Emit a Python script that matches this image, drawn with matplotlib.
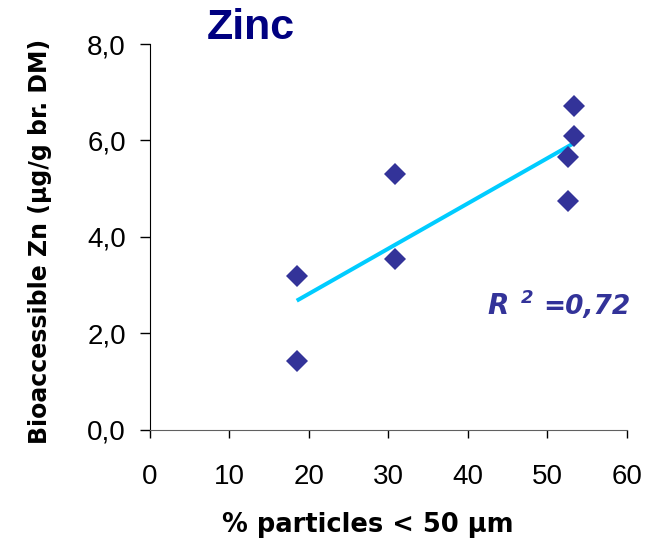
import numpy as np
import matplotlib
matplotlib.use("Agg")
import matplotlib.pyplot as plt
from matplotlib.ticker import FuncFormatter

# % of soil particles < 50 µm and bioaccessible zinc (µg/g br. DM)
pct_fine = [18.5, 18.5, 30.8, 30.8, 52.6, 52.6, 53.4, 53.4]
zn_bioacc = [3.19, 1.42, 5.31, 3.53, 5.66, 4.74, 6.09, 6.71]
r2_label = "0,72"

x_ticks = [0, 10, 20, 30, 40, 50, 60]
y_ticks = [0, 2, 4, 6, 8]

W, H = 654, 543
NAVY = "#000080"
POINT = "#333399"
TREND = "#00CCFF"


def fx(px):
    return px / W


def fy(py):
    return 1 - py / H


fig = plt.figure(figsize=(W / 100, H / 100), dpi=100)
ax = fig.add_axes([fx(149.5), fy(429.5), fx(627) - fx(149.5), fy(44) - fy(429.5)])

ax.plot(pct_fine, zn_bioacc, linestyle="none", marker="D", markersize=10.7,
        markerfacecolor=POINT, markeredgewidth=0, zorder=3)

# linear trend over the observed range
slope, icept = np.polyfit(pct_fine, zn_bioacc, 1)
xs = np.array([min(pct_fine), max(pct_fine)])
ax.plot(xs, slope * xs + icept, color=TREND, linewidth=2.9, zorder=2,
        solid_capstyle="butt")

ax.set_xlim(0, 60)
ax.set_ylim(0, 8)
ax.set_xticks(x_ticks)
ax.set_yticks(y_ticks)
ax.yaxis.set_major_formatter(FuncFormatter(lambda v, p: f"{v:.1f}".replace(".", ",")))

for s in ("top", "right"):
    ax.spines[s].set_visible(False)
ax.spines["left"].set_color("black")
ax.spines["bottom"].set_color("#606060")
ax.tick_params(axis="y", direction="out", length=7, width=1, pad=10,
               labelsize=20, colors="black")
ax.tick_params(axis="x", direction="out", length=6, width=1, pad=19,
               labelsize=20, colors="black")
for lab in ax.get_xticklabels() + ax.get_yticklabels():
    lab.set_fontfamily("Liberation Sans")

fig.text(fx(207), fy(39), "Zinc", fontfamily="Liberation Sans", fontweight="bold",
         fontsize=31, color=NAVY, va="baseline", ha="left")

fig.text(fx(367.5), fy(532), "% particles < 50 µm", fontfamily="DejaVu Sans",
         fontweight="bold", fontsize=18.5, ha="center", va="baseline")

fig.text(fx(47), fy(241), "Bioaccessible Zn (µg/g br. DM)", fontfamily="DejaVu Sans",
         fontweight="bold", fontsize=17, rotation=90, rotation_mode="anchor",
         ha="center", va="baseline")

# R² annotation
fig.text(fx(487), fy(314), "R", fontfamily="DejaVu Sans", fontweight="bold",
         fontstyle="italic", fontsize=20, color=POINT, va="baseline", ha="left")
fig.text(fx(521), fy(303), "2", fontfamily="DejaVu Sans", fontweight="bold",
         fontstyle="italic", fontsize=13, color=POINT, va="baseline", ha="left")
fig.text(fx(630), fy(314), "=" + r2_label, fontfamily="DejaVu Sans", fontweight="bold",
         fontstyle="italic", fontsize=19, color=POINT, va="baseline", ha="right")

fig.savefig("out.png", dpi=100)
